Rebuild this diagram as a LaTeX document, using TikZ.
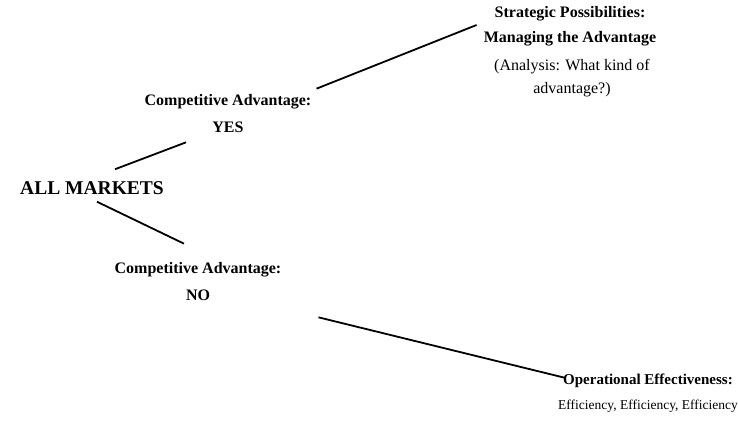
\documentclass[tikz,border=0pt]{standalone}
\usepackage{fontspec}
\setmainfont{Liberation Serif}
\tikzset{
    branch/.style={align=center, inner sep=0pt, font=\bfseries\fontsize{16}{27}\selectfont},
    note/.style={align=center, inner sep=0pt, font=\fontsize{16}{23}\selectfont},
    twig/.style={line width=1.8pt},
}
\begin{document}
\begin{tikzpicture}[x=1pt, y=-1pt]
        \useasboundingbox (0,0) rectangle (738,420);

        \node[branch, font=\bfseries\fontsize{19.5}{22}\selectfont] (all) at (92,188) {ALL MARKETS};

        \node[branch] (yes) at (228,114) {Competitive Advantage:\\YES};
        \node[branch] (no) at (198,282) {Competitive Advantage:\\NO};

        \node[branch, font=\bfseries\fontsize{16}{25}\selectfont] (strat) at (570,26) {Strategic Possibilities:\\Managing the Advantage};
        \node[note] (anal) at (572,78) {(Analysis: What kind of\\advantage?)};

        \node[branch, font=\bfseries\fontsize{15}{25}\selectfont] (oper) at (648,393) {Operational Effectiveness:\\\normalfont\fontsize{13.5}{25}\selectfont Efficiency, Efficiency, Efficiency};

        \draw[twig] ([shift={(23,-12)}]all.north) -- ([shift={(-42,9)}]yes.south);
        \draw[twig] ([shift={(5,7)}]all.south) -- ([shift={(-14,-19)}]no.north);

        \draw[twig] ([shift={(5,-6)}]yes.north east) -- ([shift={(-7,-1)}]strat.west);
        \draw[twig] ([shift={(37,16)}]no.south east) -- ([shift={(6,4)}]oper.north west);
    \end{tikzpicture}
\end{document}
